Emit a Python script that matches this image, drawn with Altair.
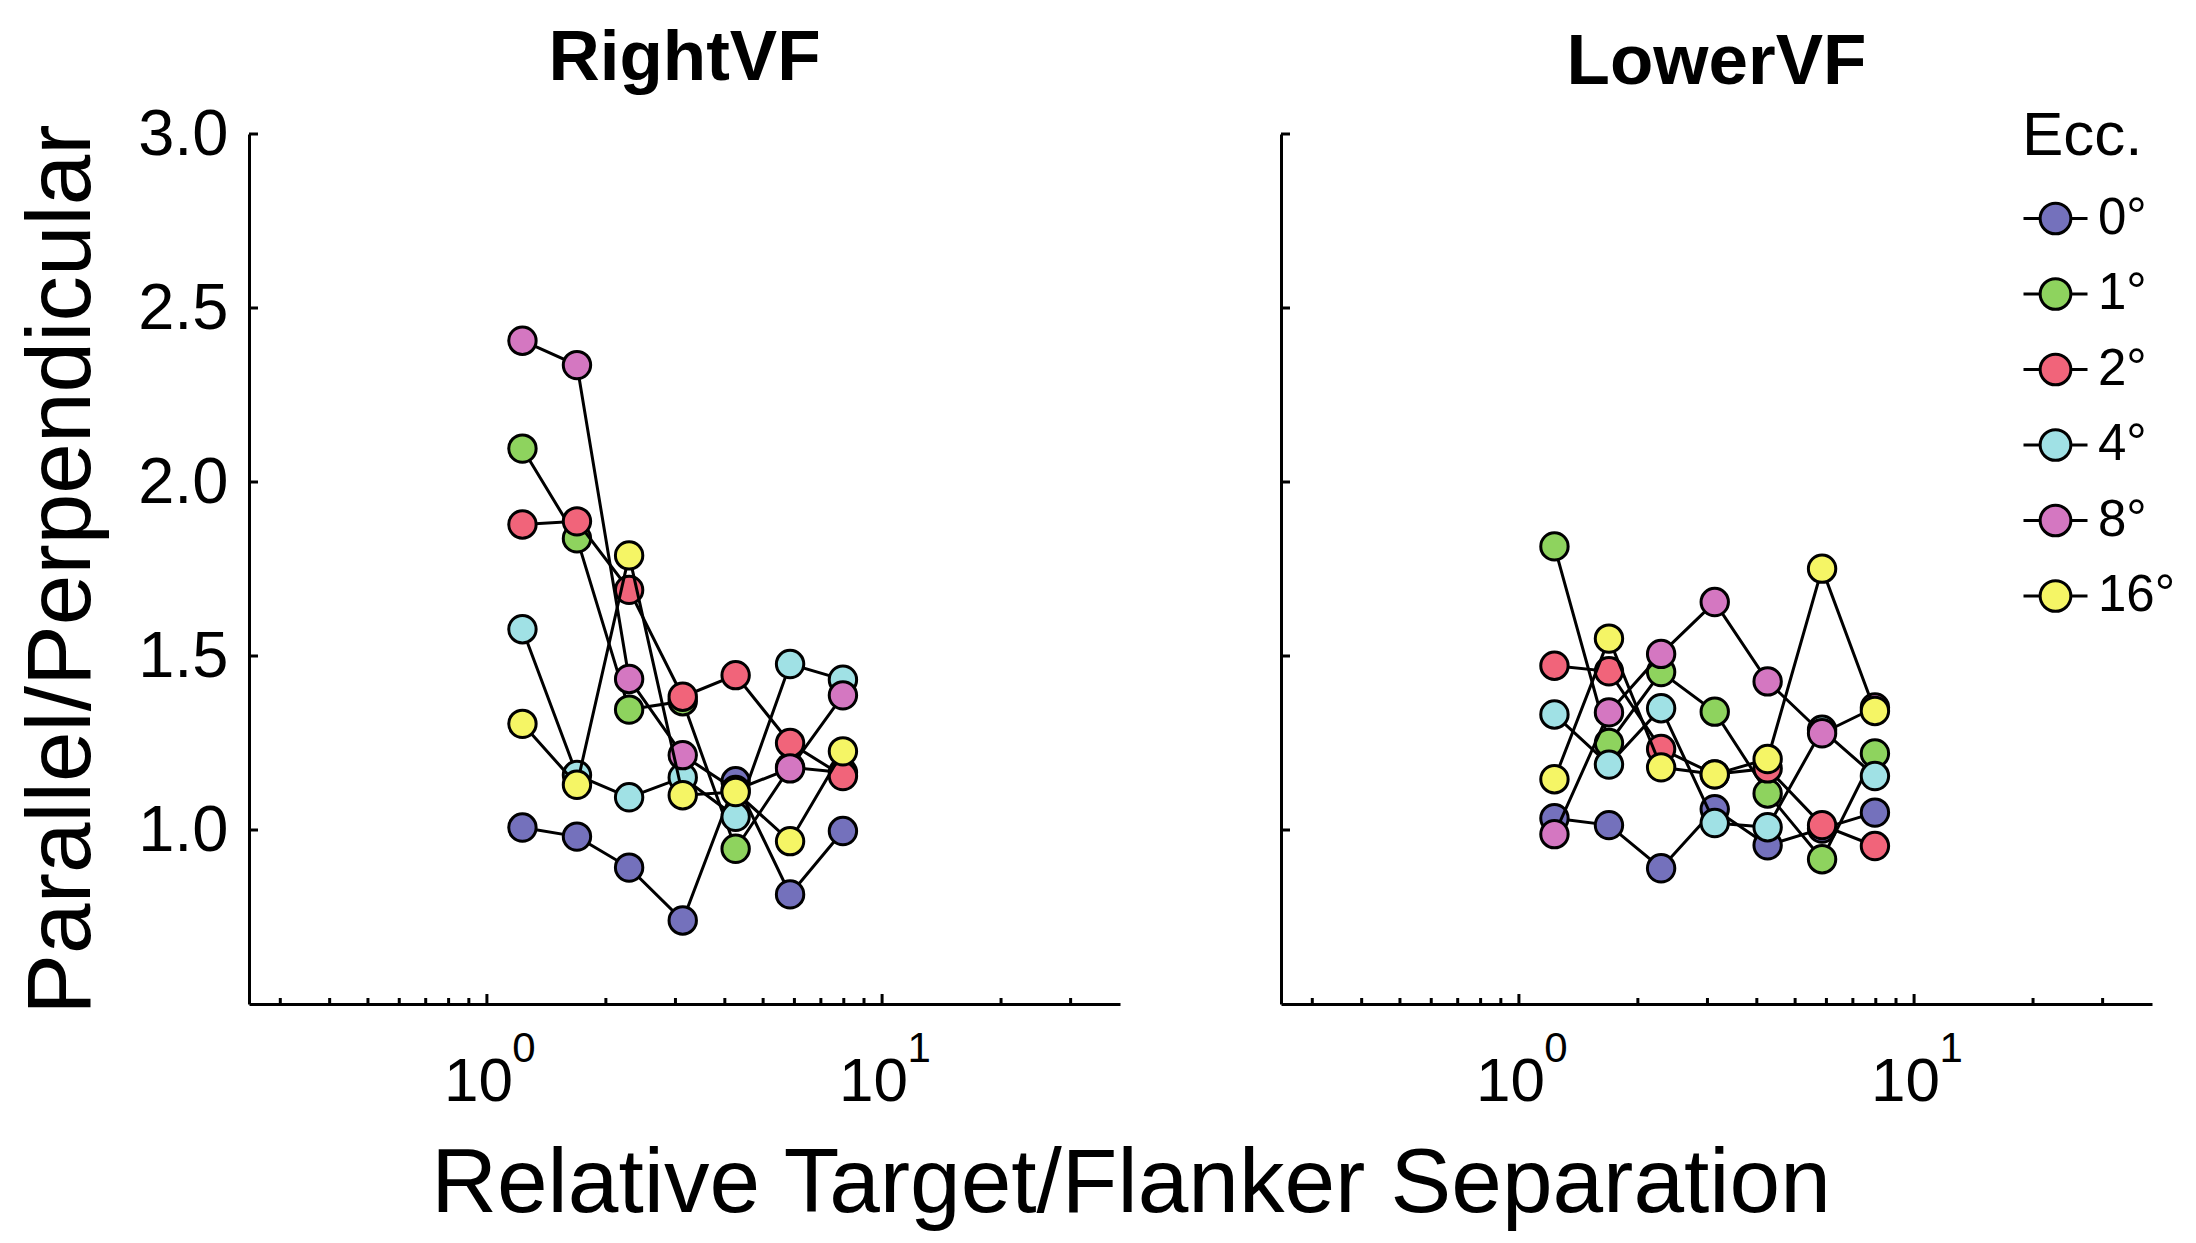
import altair as alt
import pandas as pd

# ---------------- data ----------------
separation = [1.23, 1.69, 2.29, 3.13, 4.26, 5.85, 7.96]
ecc_levels = ["0°", "1°", "2°", "4°", "8°", "16°"]
ecc_colors = ["#7471BC", "#8ED35E", "#F1647A", "#A0E1E5", "#D477C1", "#F5F565"]

# RightVF panel
right_0 = [1.007, 0.981, 0.892, 0.740, 1.140, 0.815, 0.997]
right_1 = [2.096, 1.838, 1.346, 1.370, 0.946, 1.180, 1.165]
right_2 = [1.878, 1.887, 1.690, 1.383, 1.445, 1.250, 1.155]
right_4 = [1.577, 1.158, 1.094, 1.151, 1.038, 1.477, 1.432]
right_8 = [2.406, 2.336, 1.434, 1.215, 1.115, 1.177, 1.387]
right_16 = [1.305, 1.130, 1.789, 1.100, 1.109, 0.968, 1.226]

# LowerVF panel
lower_0 = [1.034, 1.014, 0.890, 1.060, 0.956, 1.004, 1.050]
lower_1 = [1.815, 1.250, 1.454, 1.340, 1.105, 0.916, 1.220]
lower_2 = [1.472, 1.456, 1.233, 1.160, 1.177, 1.014, 0.954]
lower_4 = [1.332, 1.188, 1.350, 1.020, 1.008, 1.288, 1.155]
lower_8 = [0.988, 1.338, 1.506, 1.655, 1.427, 1.278, 1.352]
lower_16 = [1.146, 1.550, 1.180, 1.160, 1.204, 1.751, 1.342]

panel_titles = ["RightVF", "LowerVF"]
y_ticks = [1.0, 1.5, 2.0, 2.5, 3.0]
x_major = [1, 10]
x_label_base = "10"
x_exponents = ["0", "1"]
x_minor = [0.3, 0.4, 0.5, 0.6, 0.7, 0.8, 0.9, 2, 3, 4, 5, 6, 7, 8, 9, 20, 30]
x_domain = [0.25, 40]
y_domain = [0.5, 3.0]

# ---------------- style ----------------
W, H = 871, 870
FONT = "Liberation Sans"
LEGEND_SYMBOL = ("M-1,0L-0.48,0M0.48,0L1,0"
                 "M-0.48,0A0.48,0.48,0,1,1,0.48,0A0.48,0.48,0,1,1,-0.48,0Z")


def long_table(series):
    rows = []
    for e, vals in zip(ecc_levels, series):
        for xv, yv in zip(separation, vals):
            rows.append({"ecc": e, "sep": xv, "ratio": yv})
    return pd.DataFrame(rows)


def make_panel(df, title, first):
    xs = alt.Scale(type="log", domain=x_domain, nice=False)
    ys = alt.Scale(domain=y_domain, nice=False, zero=False)

    x_axis = alt.Axis(values=x_major, labelExpr=f"'{x_label_base}'", ticks=False,
                      grid=False, title=None, domainColor="black", domainWidth=3,
                      labelFont=FONT, labelFontSize=62, labelColor="black",
                      labelPadding=47, labelOffset=-9, labelFlush=False)
    if first:
        y_axis = alt.Axis(values=y_ticks, format=".1f", ticks=False, grid=False,
                          domainColor="black", domainWidth=3,
                          labelFont=FONT, labelFontSize=65, labelColor="black",
                          labelPadding=21,
                          title="Parallel/Perpendicular", titleFont=FONT,
                          titleFontSize=91, titleFontWeight="normal",
                          titleColor="black", titleAngle=270,
                          titleX=-160, titleY=H / 2, titleAlign="center",
                          titleBaseline="alphabetic")
    else:
        y_axis = alt.Axis(values=y_ticks, ticks=False, grid=False, labels=False,
                          title=None, domainColor="black", domainWidth=3)

    if first:
        legend = None
    else:
        legend = alt.Legend(title="Ecc.", orient="none", legendX=741, legendY=-28,
                            direction="vertical",
                            symbolType=LEGEND_SYMBOL, symbolSize=4096,
                            symbolStrokeColor="black", symbolStrokeWidth=3,
                            symbolOpacity=1,
                            labelFont=FONT, labelFontSize=51, labelColor="black",
                            labelOffset=9, rowPadding=16.5, padding=0,
                            titleFont=FONT, titleFontSize=62,
                            titleFontWeight="normal", titleColor="black",
                            titlePadding=17)

    fill_enc = alt.Fill("ecc:N", scale=alt.Scale(domain=ecc_levels, range=ecc_colors),
                        legend=legend, sort=ecc_levels)

    layers = []
    # inward y ticks
    layers.append(
        alt.Chart(pd.DataFrame({"t": y_ticks})).mark_rule(color="black", strokeWidth=3)
        .encode(y=alt.Y("t:Q", scale=ys, axis=y_axis), x=alt.value(0), x2=alt.value(9))
    )
    # inward x ticks (major / minor)
    layers.append(
        alt.Chart(pd.DataFrame({"t": x_major})).mark_rule(color="black", strokeWidth=3)
        .encode(x=alt.X("t:Q", scale=xs, axis=x_axis), y=alt.value(H), y2=alt.value(H - 10))
    )
    layers.append(
        alt.Chart(pd.DataFrame({"t": x_minor})).mark_rule(color="black", strokeWidth=3)
        .encode(x=alt.X("t:Q", scale=xs, axis=x_axis), y=alt.value(H), y2=alt.value(H - 6))
    )
    # exponents of the 10^n tick labels
    layers.append(
        alt.Chart(pd.DataFrame({"t": x_major, "exp": x_exponents}))
        .mark_text(font=FONT, fontSize=42, color="black", align="center",
                   baseline="alphabetic", dx=37)
        .encode(x=alt.X("t:Q", scale=xs, axis=x_axis), y=alt.value(H + 58),
                text="exp:N")
    )
    # each series: line then markers (later series on top)
    for e in ecc_levels:
        base = alt.Chart(df).transform_filter(alt.datum.ecc == e)
        layers.append(
            base.mark_line(color="black", strokeWidth=3).encode(
                x=alt.X("sep:Q", scale=xs, axis=x_axis),
                y=alt.Y("ratio:Q", scale=ys, axis=y_axis),
            )
        )
        layers.append(
            base.mark_point(shape="circle", filled=True, size=750, stroke="black",
                            strokeWidth=3, opacity=1).encode(
                x=alt.X("sep:Q", scale=xs, axis=x_axis),
                y=alt.Y("ratio:Q", scale=ys, axis=y_axis),
                fill=fill_enc,
            )
        )

    return alt.layer(*layers).properties(
        width=W, height=H,
        title=alt.TitleParams(title, font=FONT, fontSize=71, fontWeight="bold",
                              color="black", anchor="middle", frame="group",
                              baseline="alphabetic", offset=-49),
    )


left = make_panel(long_table([right_0, right_1, right_2, right_4, right_8, right_16]),
                  panel_titles[0], True)
right = make_panel(long_table([lower_0, lower_1, lower_2, lower_4, lower_8, lower_16]),
                   panel_titles[1], False)

chart = (
    alt.hconcat(left, right, spacing=159)
    .resolve_scale(fill="independent")
    .resolve_legend(fill="independent")
    .properties(
        title=alt.TitleParams("Relative Target/Flanker Separation", orient="bottom",
                              anchor="start", align="center", dx=1115,
                              font=FONT, fontSize=91, fontWeight="normal",
                              color="black", baseline="alphabetic", offset=100),
        padding={"left": 7, "top": 15, "right": 5, "bottom": 5},
    )
    .configure(background="white", view=alt.ViewConfig(stroke=None))
)

chart.save("out.html", embed_options={"renderer": "svg", "actions": False})
